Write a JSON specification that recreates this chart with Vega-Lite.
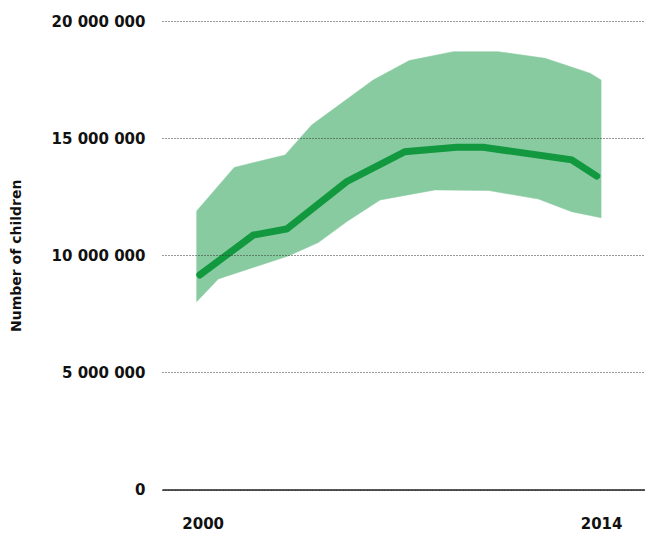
{
  "$schema": "https://vega.github.io/schema/vega-lite/v6.json",
  "width": 483,
  "height": 468.5,
  "autosize": {"type": "none"},
  "padding": {"left": 162, "top": 21, "right": 0, "bottom": 48.5},
  "background": "white",
  "config": {
    "view": {"stroke": null},
    "locale": {"number": {"decimal": ".", "thousands": " ", "grouping": [3], "currency": ["", ""]}}
  },
  "datasets": {
    "band": [
      {"i": 1, "year": 2000.00, "children": 11890000},
      {"i": 2, "year": 2001.30, "children": 13750000},
      {"i": 3, "year": 2003.06, "children": 14280000},
      {"i": 4, "year": 2003.98, "children": 15560000},
      {"i": 5, "year": 2006.11, "children": 17480000},
      {"i": 6, "year": 2007.36, "children": 18310000},
      {"i": 7, "year": 2008.88, "children": 18690000},
      {"i": 8, "year": 2010.44, "children": 18690000},
      {"i": 9, "year": 2012.06, "children": 18410000},
      {"i": 10, "year": 2013.62, "children": 17770000},
      {"i": 11, "year": 2014.00, "children": 17480000},
      {"i": 12, "year": 2014.00, "children": 11600000},
      {"i": 13, "year": 2012.98, "children": 11860000},
      {"i": 14, "year": 2011.83, "children": 12400000},
      {"i": 15, "year": 2010.12, "children": 12760000},
      {"i": 16, "year": 2008.25, "children": 12790000},
      {"i": 17, "year": 2006.35, "children": 12360000},
      {"i": 18, "year": 2005.19, "children": 11430000},
      {"i": 19, "year": 2004.21, "children": 10540000},
      {"i": 20, "year": 2003.17, "children": 9970000},
      {"i": 21, "year": 2000.75, "children": 8990000},
      {"i": 22, "year": 2000.00, "children": 8020000}
    ],
    "estimate": [
      {"year": 2000.11, "children": 9160000},
      {"year": 2001.96, "children": 10860000},
      {"year": 2003.12, "children": 11120000},
      {"year": 2005.19, "children": 13140000},
      {"year": 2007.21, "children": 14420000},
      {"year": 2009.00, "children": 14610000},
      {"year": 2009.92, "children": 14610000},
      {"year": 2012.98, "children": 14070000},
      {"year": 2013.85, "children": 13380000}
    ]
  },
  "encoding": {
    "x": {
      "field": "year",
      "type": "quantitative",
      "scale": {"domain": [1998.8, 2015.52], "nice": false, "zero": false},
      "axis": {
        "values": [2000, 2014],
        "format": "d",
        "title": null,
        "grid": false,
        "ticks": false,
        "domain": true,
        "domainColor": "#222222",
        "domainWidth": 1.3,
        "labelPadding": 27,
        "labelFont": "DejaVu Sans",
        "labelFontSize": 15,
        "labelFontWeight": "bold",
        "labelColor": "#111111",
        "labelOffset": {"condition": {"test": "datum.value == 2000", "value": 6}, "value": 0},
        "zindex": 1
      }
    },
    "y": {
      "field": "children",
      "type": "quantitative",
      "scale": {"domain": [0, 20000000], "nice": false},
      "axis": {
        "values": [0, 5000000, 10000000, 15000000, 20000000],
        "format": ",d",
        "title": "Number of children",
        "titleFont": "DejaVu Sans",
        "titleFontSize": 14,
        "titleFontWeight": "bold",
        "titleColor": "#111111",
        "titlePadding": 28,
        "domain": false,
        "ticks": false,
        "labelPadding": 17,
        "labelFont": "DejaVu Sans",
        "labelFontSize": 15,
        "labelFontWeight": "bold",
        "labelColor": "#111111",
        "grid": true,
        "gridColor": "#333333",
        "gridWidth": 1,
        "gridDash": [1, 2],
        "zindex": 1
      }
    }
  },
  "layer": [
    {
      "data": {"name": "band"},
      "mark": {"type": "line", "fill": "#89CBA0", "stroke": "#89CBA0", "strokeWidth": 0.5, "interpolate": "linear-closed"},
      "encoding": {"order": {"field": "i", "type": "quantitative"}}
    },
    {
      "data": {"name": "estimate"},
      "mark": {"type": "line", "color": "#12993F", "strokeWidth": 7, "strokeCap": "round", "strokeJoin": "miter"},
      "encoding": {}
    }
  ]
}
